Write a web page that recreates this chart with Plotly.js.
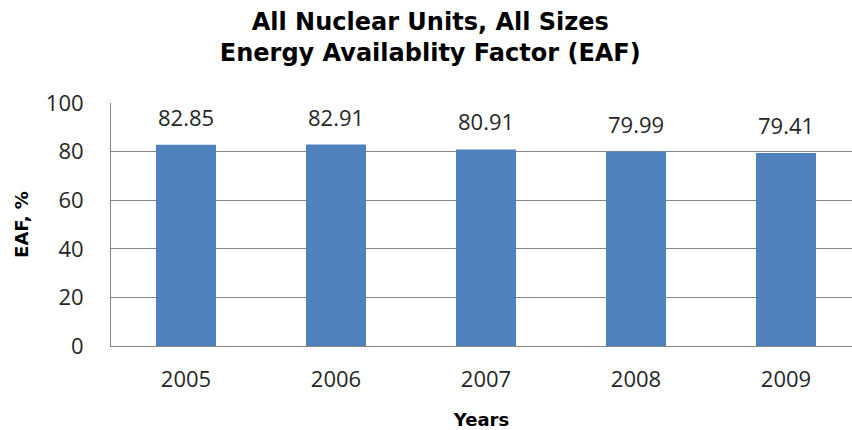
<!DOCTYPE html>
<html>
<head>
<meta charset="utf-8">
<script src="https://cdn.plot.ly/plotly-3.0.1.min.js"></script>
<style>
  html, body { margin: 0; padding: 0; background: #fff; }
  #plot { width: 852px; height: 430px; }
</style>
</head>
<body>
<div id="plot"></div>
<script>
  var years = ['2005', '2006', '2007', '2008', '2009'];
  var eaf = [82.85, 82.91, 80.91, 79.99, 79.41];
  var eafLabels = ['82.85', '82.91', '80.91', '79.99', '79.41'];

  var trace = {
    x: years,
    y: eaf,
    type: 'bar',
    marker: { color: '#4F81BD' },
    width: 0.4,
    hoverinfo: 'x+y'
  };

  // value labels sit a little higher above the bars than plotly's own outside text
  var labels = years.map(function (yr, i) {
    return {
      x: i,
      y: eaf[i],
      text: eafLabels[i],
      showarrow: false,
      xanchor: 'center',
      yanchor: 'middle',
      yshift: 28,
      font: { family: 'Open Sans', size: 22, color: '#262626' }
    };
  });

  var layout = {
    width: 852,
    height: 430,
    margin: { l: 111, r: 0, t: 103, b: 84 },
    paper_bgcolor: '#ffffff',
    plot_bgcolor: '#ffffff',
    showlegend: false,
    annotations: labels,
    title: {
      text: '<b>All Nuclear Units, All Sizes<br>Energy Availablity Factor (EAF)</b>',
      font: { family: 'DejaVu Sans', size: 24, color: '#000000' },
      x: 0.505,
      xanchor: 'center',
      y: 0.93,
      yanchor: 'top'
    },
    xaxis: {
      type: 'category',
      range: [-0.5, 4.44],
      showline: true,
      linecolor: '#868686',
      linewidth: 1,
      ticks: '',
      showgrid: false,
      ticklabelstandoff: 14,
      tickfont: { family: 'Open Sans', size: 22, color: '#262626' },
      title: {
        text: '<b>Years</b>',
        font: { family: 'DejaVu Sans', size: 18, color: '#000000' },
        standoff: 20
      }
    },
    yaxis: {
      range: [0, 100],
      tickvals: [0, 20, 40, 60, 80, 100],
      showline: true,
      linecolor: '#868686',
      linewidth: 1,
      ticks: '',
      showgrid: true,
      gridcolor: '#868686',
      gridwidth: 1,
      zeroline: false,
      tickfont: { family: 'Open Sans', size: 22, color: '#262626' },
      ticklabelstandoff: 22,
      title: {
        text: '<b>EAF, %</b>',
        font: { family: 'DejaVu Sans', size: 18, color: '#000000' },
        standoff: 12
      }
    }
  };

  Plotly.newPlot('plot', [trace], layout, { displayModeBar: false, staticPlot: true });
</script>
</body>
</html>
